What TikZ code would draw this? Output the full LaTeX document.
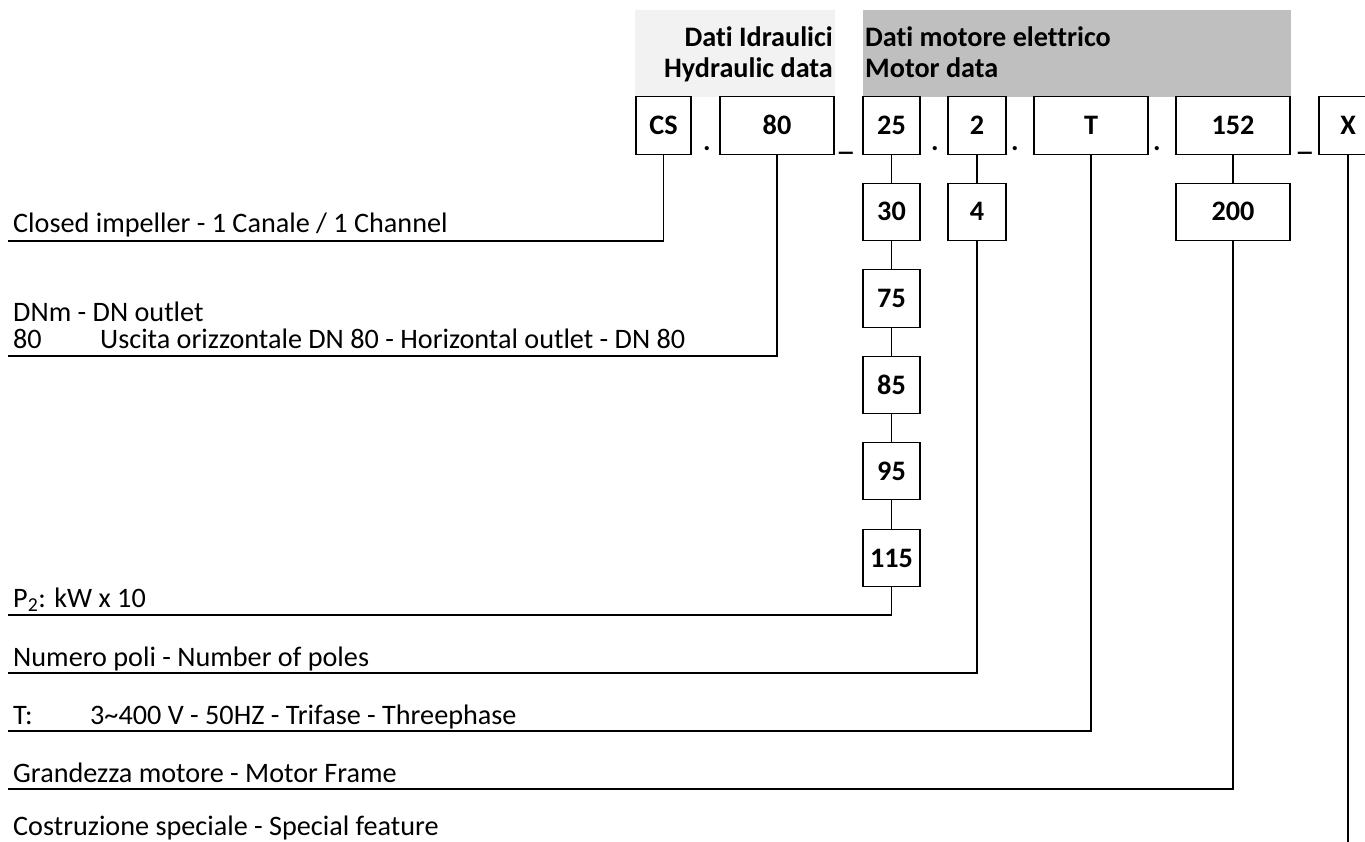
\documentclass[tikz,border=0pt]{standalone}
\usepackage{fontspec}
\setmainfont{Carlito}[Ligatures=NoCommon]
\definecolor{hydgray}{HTML}{F2F2F2}
\definecolor{motgray}{HTML}{BFBFBF}
\begin{document}
\begin{tikzpicture}[x=1pt,y=-1pt,
  txt/.style={inner sep=0pt, font=\fontsize{28.2}{33}\selectfont},
  btxt/.style={inner sep=0pt, font=\fontsize{28.2}{33}\selectfont\bfseries},
  box/.style={draw, line width=1.1pt, minimum height=57.5pt, inner sep=0pt, text height=18pt, text depth=0pt, font=\fontsize{28.2}{33}\selectfont\bfseries},
  wire/.style={line width=1.1pt},
  lbl/.style={txt, anchor=base west},
  sep/.style={btxt, anchor=base}]
\useasboundingbox (0,0) rectangle (1365,842);
% header panels
\node[fill=hydgray, minimum width=200pt, minimum height=87pt, anchor=north west, inner sep=0pt] (hyd) at (635,10) {};
\node[fill=motgray, minimum width=428pt, minimum height=87pt, anchor=north west, inner sep=0pt] (mot) at (863,10) {};
\node[btxt, anchor=base east] (h1) at (833,47) {Dati Idraulici};
\node[btxt, anchor=base east] (h2) at (833,78) {Hydraulic data};
\node[btxt, anchor=base west] (m1) at (865,47) {Dati motore elettrico};
\node[btxt, anchor=base west] (m2) at (865,78) {Motor data};
% code boxes
\node[box, minimum width=55pt]  (cs)  at (663.5,125.5) {CS};
\node[box, minimum width=114pt] (dn)  at (777,125.5) {80};
\node[box, minimum width=57pt]  (p25) at (891.5,125.5) {25};
\node[box, minimum width=58pt]  (p2)  at (977,125.5) {2};
\node[box, minimum width=114pt] (tt)  at (1091,125.5) {T};
\node[box, minimum width=114pt] (f152) at (1233,125.5) {152};
\node[box, minimum width=58pt]  (xx)  at (1348,125.5) {X};
% separators
\node[sep] (d1) at (707,151) {.};
\node[sep] (u1) at (846,151) {\_};
\node[sep] (d2) at (935,151) {.};
\node[sep] (d3) at (1015,151) {.};
\node[sep] (d4) at (1157,151) {.};
\node[sep] (u2) at (1305,151) {\_};
% option boxes
\node[box, minimum width=57pt]  (p30)  at (891.5,212) {30};
\node[box, minimum width=57pt]  (p75)  at (891.5,298.5) {75};
\node[box, minimum width=57pt]  (p85)  at (891.5,385) {85};
\node[box, minimum width=57pt]  (p95)  at (891.5,471) {95};
\node[box, minimum width=57pt]  (p115) at (891.5,558) {115};
\node[box, minimum width=58pt]  (p4)   at (977,212) {4};
\node[box, minimum width=114pt] (f200) at (1233,212) {200};
% labels
\node[lbl] (l1) at (13,233) {Closed impeller - 1 Canale / 1 Channel};
\node[lbl] (l2a) at (13,321) {DNm - DN outlet};
\node[lbl] (l2b) at (13,348) {\makebox[87pt][l]{80}Uscita orizzontale DN 80 - Horizontal outlet - DN 80};
\node[lbl] (l3) at (13,607) {P\textsubscript{2}: kW x 10};
\node[lbl] (l4) at (13,666) {Numero poli - Number of poles};
\node[lbl] (l5) at (13,724) {\makebox[77pt][l]{T:}3\textasciitilde400 V - 50HZ - Trifase - Threephase};
\node[lbl] (l6) at (13,782) {Grandezza motore - Motor Frame};
\node[lbl] (l7) at (13,835) {Costruzione speciale - Special feature};
% leader end points
\coordinate (e1) at (8,241);
\coordinate (e2) at (8,356);
\coordinate (e3) at (8,615);
\coordinate (e4) at (8,673);
\coordinate (e5) at (8,731);
\coordinate (e6) at (8,789);
\coordinate (e7) at (1348,842);
% connectors
\draw[wire] (cs.south) |- (e1);
\draw[wire] (dn.south) |- (e2);
\draw[wire] (p25.south) -- (p30.north);
\draw[wire] (p30.south) -- (p75.north);
\draw[wire] (p75.south) -- (p85.north);
\draw[wire] (p85.south) -- (p95.north);
\draw[wire] (p95.south) -- (p115.north);
\draw[wire] (p115.south) |- (e3);
\draw[wire] (p2.south) -- (p4.north);
\draw[wire] (p4.south) |- (e4);
\draw[wire] (tt.south) |- (e5);
\draw[wire] (f152.south) -- (f200.north);
\draw[wire] (f200.south) |- (e6);
\draw[wire] (xx.south) -- (e7);
\end{tikzpicture}
\end{document}
